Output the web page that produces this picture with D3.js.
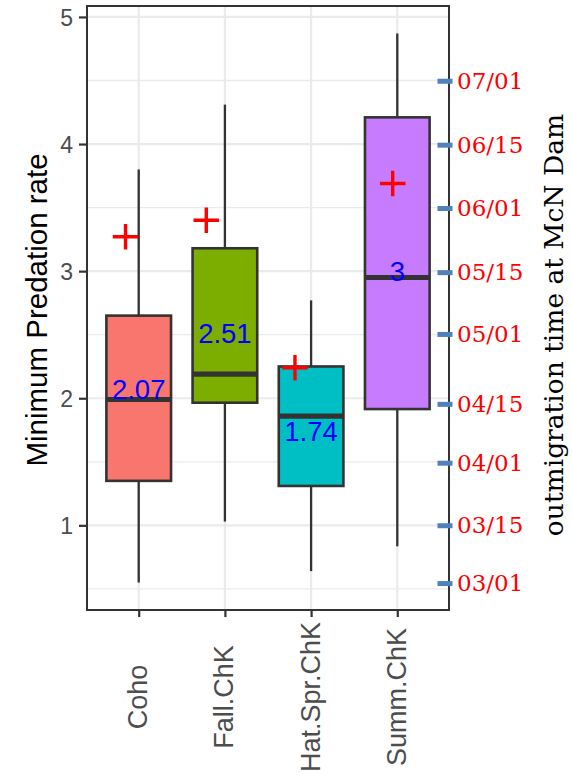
<!DOCTYPE html>
<html>
<head>
<meta charset="utf-8">
<script src="https://cdn.jsdelivr.net/npm/d3@7"></script>
<style>
  html, body { margin: 0; padding: 0; background: #fff; }
  svg { display: block; }
</style>
</head>
<body>
<svg id="chart" width="572" height="775"></svg>
<script>
// ---- data ----
const categories   = ["Coho", "Fall.ChK", "Hat.Spr.ChK", "Summ.ChK"];
const whiskerLow   = [0.55, 1.03, 0.64, 0.835];
const q1           = [1.35, 1.965, 1.31, 1.915];
const median       = [1.99, 2.19, 1.86, 2.95];
const q3           = [2.65, 3.18, 2.25, 4.21];
const whiskerHigh  = [3.80, 4.31, 2.77, 4.87];
const meanLabels   = [2.07, 2.51, 1.74, 3];
const crossValues  = [3.27, 3.40, 2.24, 3.69];
const crossJitter  = [-0.153, -0.216, -0.187, -0.053]; // in category units
const fillColors   = ["#F8766D", "#7CAE00", "#00BFC4", "#C77CFF"];
const yTicks       = [1, 2, 3, 4, 5];
const yMinorTicks  = [0.5, 1.5, 2.5, 3.5, 4.5];
const dateLabels   = ["03/01", "03/15", "04/01", "04/15", "05/01", "05/15", "06/01", "06/15", "07/01"];
const dateValues   = [0.542, 0.997, 1.489, 1.952, 2.502, 2.988, 3.493, 3.991, 4.494];

// ---- layout ----
const panel = { left: 87, right: 449, top: 6, bottom: 610 };
const svg = d3.select("#chart");

const lo = d3.min(whiskerLow), hi = d3.max(whiskerHigh), r = hi - lo;
const y = d3.scaleLinear().domain([lo - 0.05 * r, hi + 0.05 * r]).range([panel.bottom, panel.top]);
const x = d3.scalePoint().domain(categories).range([panel.left, panel.right]).padding(0.6);
const step = x.step();
const boxW = step * 0.75;

const data = categories.map((c, i) => ({
  c, i, lo: whiskerLow[i], q1: q1[i], med: median[i], q3: q3[i], hi: whiskerHigh[i],
  lab: meanLabels[i], cross: crossValues[i], jit: crossJitter[i], fill: fillColors[i]
}));

// gridlines
const grid = svg.append("g");
grid.selectAll(".ymin").data(yMinorTicks).join("line")
  .attr("x1", panel.left).attr("x2", panel.right)
  .attr("y1", d => y(d)).attr("y2", d => y(d))
  .attr("stroke", "#ebebeb").attr("stroke-width", 1.3);
grid.selectAll(".ymaj").data(yTicks).join("line")
  .attr("x1", panel.left).attr("x2", panel.right)
  .attr("y1", d => y(d)).attr("y2", d => y(d))
  .attr("stroke", "#ebebeb").attr("stroke-width", 2.2);
grid.selectAll(".xmaj").data(categories).join("line")
  .attr("x1", d => x(d)).attr("x2", d => x(d))
  .attr("y1", panel.top).attr("y2", panel.bottom)
  .attr("stroke", "#ebebeb").attr("stroke-width", 2.2);

// boxplots
const boxes = svg.append("g").selectAll("g").data(data).join("g");
boxes.append("line")
  .attr("x1", d => x(d.c)).attr("x2", d => x(d.c))
  .attr("y1", d => y(d.hi)).attr("y2", d => y(d.q3))
  .attr("stroke", "#333333").attr("stroke-width", 2.3);
boxes.append("line")
  .attr("x1", d => x(d.c)).attr("x2", d => x(d.c))
  .attr("y1", d => y(d.q1)).attr("y2", d => y(d.lo))
  .attr("stroke", "#333333").attr("stroke-width", 2.3);
boxes.append("rect")
  .attr("x", d => x(d.c) - boxW / 2).attr("width", boxW)
  .attr("y", d => y(d.q3)).attr("height", d => y(d.q1) - y(d.q3))
  .attr("fill", d => d.fill).attr("stroke", "#333333").attr("stroke-width", 2.6);
boxes.append("line")
  .attr("x1", d => x(d.c) - boxW / 2).attr("x2", d => x(d.c) + boxW / 2)
  .attr("y1", d => y(d.med)).attr("y2", d => y(d.med))
  .attr("stroke", "#333333").attr("stroke-width", 5.2);

// cross markers
const crossHalf = 12.8;
boxes.append("path")
  .attr("d", d => {
    const cx = x(d.c) + d.jit * step, cy = y(d.cross);
    return `M${cx - crossHalf},${cy}H${cx + crossHalf}M${cx},${cy - crossHalf}V${cy + crossHalf}`;
  })
  .attr("stroke", "#ff0000").attr("stroke-width", 3.4).attr("fill", "none");

// mean labels
boxes.append("text")
  .attr("x", d => x(d.c)).attr("y", d => y(d.lab)).attr("dy", "0.36em")
  .attr("text-anchor", "middle")
  .attr("font-family", "Liberation Sans, Arial, sans-serif").attr("font-size", 27.5)
  .attr("fill", "#0000ff")
  .text(d => String(d.lab));

// panel border
svg.append("rect")
  .attr("x", panel.left).attr("y", panel.top)
  .attr("width", panel.right - panel.left).attr("height", panel.bottom - panel.top)
  .attr("fill", "none").attr("stroke", "#333333").attr("stroke-width", 2);

// y axis
const yAxis = svg.append("g").attr("transform", `translate(${panel.left},0)`)
  .call(d3.axisLeft(y).tickValues(yTicks).tickSize(8).tickPadding(6).tickFormat(d3.format("d")));
yAxis.select(".domain").remove();
yAxis.selectAll(".tick line").attr("stroke", "#333333").attr("stroke-width", 2.2);
yAxis.selectAll(".tick text")
  .attr("font-family", "Liberation Sans, Arial, sans-serif").attr("font-size", 23)
  .attr("fill", "#4d4d4d").attr("dy", "0.36em");

// x axis
const xAxis = svg.append("g").attr("transform", `translate(0,${panel.bottom})`)
  .call(d3.axisBottom(x).tickSize(7).tickFormat(d => d));
xAxis.select(".domain").remove();
xAxis.selectAll(".tick line").attr("stroke", "#333333").attr("stroke-width", 2.2);
xAxis.selectAll(".tick text")
  .attr("font-family", "Liberation Sans, Arial, sans-serif").attr("font-size", 27)
  .attr("fill", "#4d4d4d")
  .attr("text-anchor", "middle")
  .attr("transform", "translate(8,87) rotate(-90)")
  .attr("x", 0).attr("y", 0).attr("dy", 0);

// right-side date annotations
const dates = svg.append("g");
dates.selectAll("line").data(dateValues).join("line")
  .attr("x1", 437.5).attr("x2", 452.5)
  .attr("y1", d => y(d)).attr("y2", d => y(d))
  .attr("stroke", "#4f81bd").attr("stroke-width", 5);
dates.selectAll("text").data(dateLabels).join("text")
  .attr("x", 457).attr("y", (d, i) => y(dateValues[i])).attr("dy", "0.33em")
  .attr("font-family", "DejaVu Serif, serif").attr("font-size", 23)
  .attr("fill", "#ff0000")
  .text(d => d);

// axis titles
svg.append("text")
  .attr("transform", `translate(47,310) rotate(-90)`)
  .attr("text-anchor", "middle")
  .attr("font-family", "Liberation Sans, Arial, sans-serif").attr("font-size", 29.5)
  .attr("fill", "#000")
  .text("Minimum Predation rate");
svg.append("text")
  .attr("transform", `translate(563,325) rotate(-90)`)
  .attr("text-anchor", "middle")
  .attr("font-family", "DejaVu Serif, serif").attr("font-size", 26.5)
  .attr("fill", "#000")
  .text("outmigration time at McN Dam");
</script>
</body>
</html>
